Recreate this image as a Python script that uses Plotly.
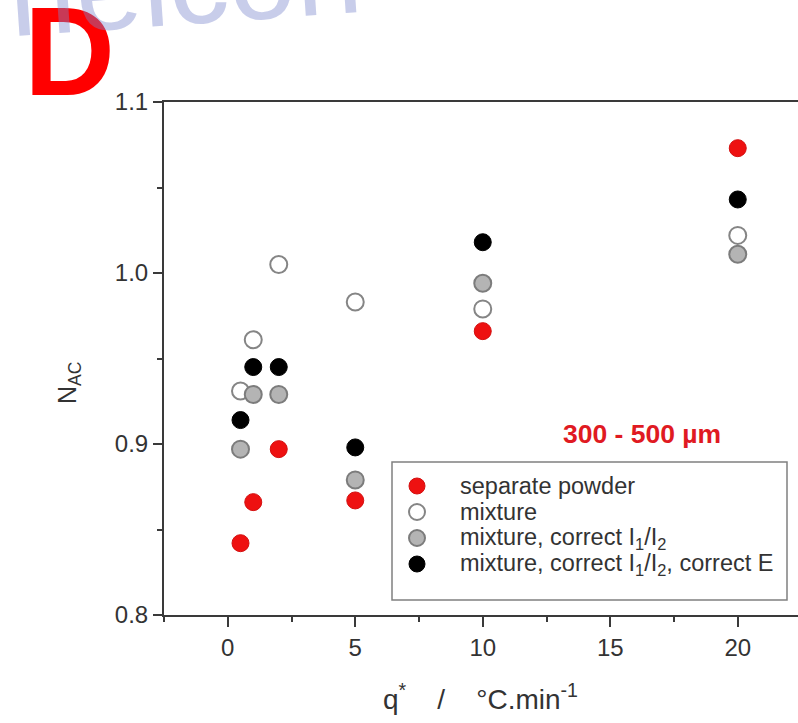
import plotly.graph_objects as go

# Heating rate q* (°C/min)
rates = [0.5, 1, 2, 5, 10, 20]

# N_AC for each data set
separate_powder = [0.842, 0.866, 0.897, 0.867, 0.966, 1.073]
mixture = [0.931, 0.961, 1.005, 0.983, 0.979, 1.022]
mixture_corr_ratio = [0.897, 0.929, 0.929, 0.879, 0.994, 1.011]
mixture_corr_ratio_e = [0.914, 0.945, 0.945, 0.898, 1.018, 1.043]

series_names = [
    "separate powder",
    "mixture",
    "mixture, correct I<sub>1</sub>/I<sub>2</sub>",
    "mixture, correct I<sub>1</sub>/I<sub>2</sub>, correct E",
]

x_ticks = [0, 5, 10, 15, 20]
y_ticks = [0.8, 0.9, 1.0, 1.1]

FONT = "Liberation Sans, Arial, sans-serif"
AXIS_COLOR = "#3a3a3a"
TEXT_COLOR = "#333333"

# figure geometry (pixels)
W, H = 798, 723
L, T, R, B = 164, 102, 0, 108
pw, ph = W - L - R, H - T - B


def px(xp):
    return (xp - L) / pw


def py(yp):
    return (H - B - yp) / ph


styles = [
    dict(color="#ee1111", line=dict(color="#d41010", width=1)),
    dict(color="#ffffff", line=dict(color="#858585", width=2)),
    dict(color="#b4b4b4", line=dict(color="#7c7c7c", width=2)),
    dict(color="#000000", line=dict(color="#000000", width=1)),
]
series = [separate_powder, mixture, mixture_corr_ratio, mixture_corr_ratio_e]

fig = go.Figure()
for name, vals, st in zip(series_names, series, styles):
    fig.add_trace(
        go.Scatter(
            x=rates,
            y=vals,
            mode="markers",
            name=name,
            showlegend=False,
            marker=dict(size=17, symbol="circle", **st),
        )
    )

fig.update_layout(
    width=W,
    height=H,
    margin=dict(l=L, r=R, t=T, b=B),
    paper_bgcolor="white",
    plot_bgcolor="white",
    font=dict(family=FONT, color=TEXT_COLOR),
    showlegend=False,
)

fig.update_xaxes(
    range=[-2.5, -2.5 + pw / 25.5],
    tickvals=x_ticks,
    ticktext=[str(v) for v in x_ticks],
    ticks="outside",
    ticklen=10,
    tickwidth=2,
    tickcolor=AXIS_COLOR,
    minor=dict(dtick=2.5, tick0=0, ticks="outside", ticklen=5, tickwidth=2, tickcolor=AXIS_COLOR),
    showline=True,
    linecolor=AXIS_COLOR,
    linewidth=2,
    mirror=True,
    showgrid=False,
    zeroline=False,
    tickfont=dict(family=FONT, size=24, color=TEXT_COLOR),
)

fig.update_yaxes(
    range=[0.8, 1.1],
    tickvals=y_ticks,
    ticktext=[f"{v:.1f}" for v in y_ticks],
    ticks="outside",
    ticklen=9,
    tickwidth=2,
    tickcolor=AXIS_COLOR,
    minor=dict(dtick=0.05, tick0=0.8, ticks="outside", ticklen=5, tickwidth=2, tickcolor=AXIS_COLOR),
    showline=True,
    linecolor=AXIS_COLOR,
    linewidth=2,
    mirror=False,
    showgrid=False,
    zeroline=False,
    tickfont=dict(family=FONT, size=24, color=TEXT_COLOR),
)

# legend box drawn in pixel layout
LEG_X0, LEG_X1, LEG_Y0, LEG_Y1 = 392, 787, 462, 600
row_y = [486, 512, 538, 564]
sym_x, sym_r, text_x = 417, 8, 458

shapes = [
    dict(
        type="rect", xref="paper", yref="paper",
        x0=px(LEG_X0), x1=px(LEG_X1), y0=py(LEG_Y1), y1=py(LEG_Y0),
        line=dict(color="#808080", width=1.5), fillcolor="white", layer="above",
    )
]
annotations = []
for name, st, yy in zip(series_names, styles, row_y):
    shapes.append(
        dict(
            type="circle", xref="paper", yref="paper",
            x0=px(sym_x - sym_r), x1=px(sym_x + sym_r),
            y0=py(yy + sym_r), y1=py(yy - sym_r),
            fillcolor=st["color"], line=st["line"], layer="above",
        )
    )
    annotations.append(
        dict(
            text=name, x=px(text_x), y=py(yy), xref="paper", yref="paper",
            xanchor="left", yanchor="middle", showarrow=False,
            font=dict(family=FONT, size=23.5, color=TEXT_COLOR),
        )
    )

annotations += [
    # axis titles
    dict(
        text="q<sup>*</sup>    /    °C.min<sup>-1</sup>",
        x=px(480), y=py(697), xref="paper", yref="paper",
        xanchor="center", yanchor="middle", showarrow=False,
        font=dict(family=FONT, size=28, color=TEXT_COLOR),
    ),
    dict(
        text="N<sub>AC</sub>",
        x=px(69), y=py(383), xref="paper", yref="paper",
        xanchor="center", yanchor="middle", showarrow=False, textangle=-90,
        font=dict(family=FONT, size=25, color=TEXT_COLOR),
    ),
    # particle size range
    dict(
        text="<b>300 - 500 µm</b>",
        x=px(642), y=py(434), xref="paper", yref="paper",
        xanchor="center", yanchor="middle", showarrow=False,
        font=dict(family=FONT, size=26.5, color="#e01a22"),
    ),
    # panel letter
    dict(
        text="<b>D</b>",
        x=px(22), y=py(52), xref="paper", yref="paper",
        xanchor="left", yanchor="middle", showarrow=False,
        font=dict(family=FONT, size=126, color="#ff0000"),
    ),
    # site watermark
    dict(
        text="nelcon",
        x=px(2), y=py(-18), xref="paper", yref="paper",
        xanchor="left", yanchor="middle", showarrow=False, textangle=-4,
        font=dict(family=FONT, size=120, color="rgba(125,135,205,0.42)"),
    ),
]

fig.update_layout(shapes=shapes, annotations=annotations)

fig.write_html("out.html")
